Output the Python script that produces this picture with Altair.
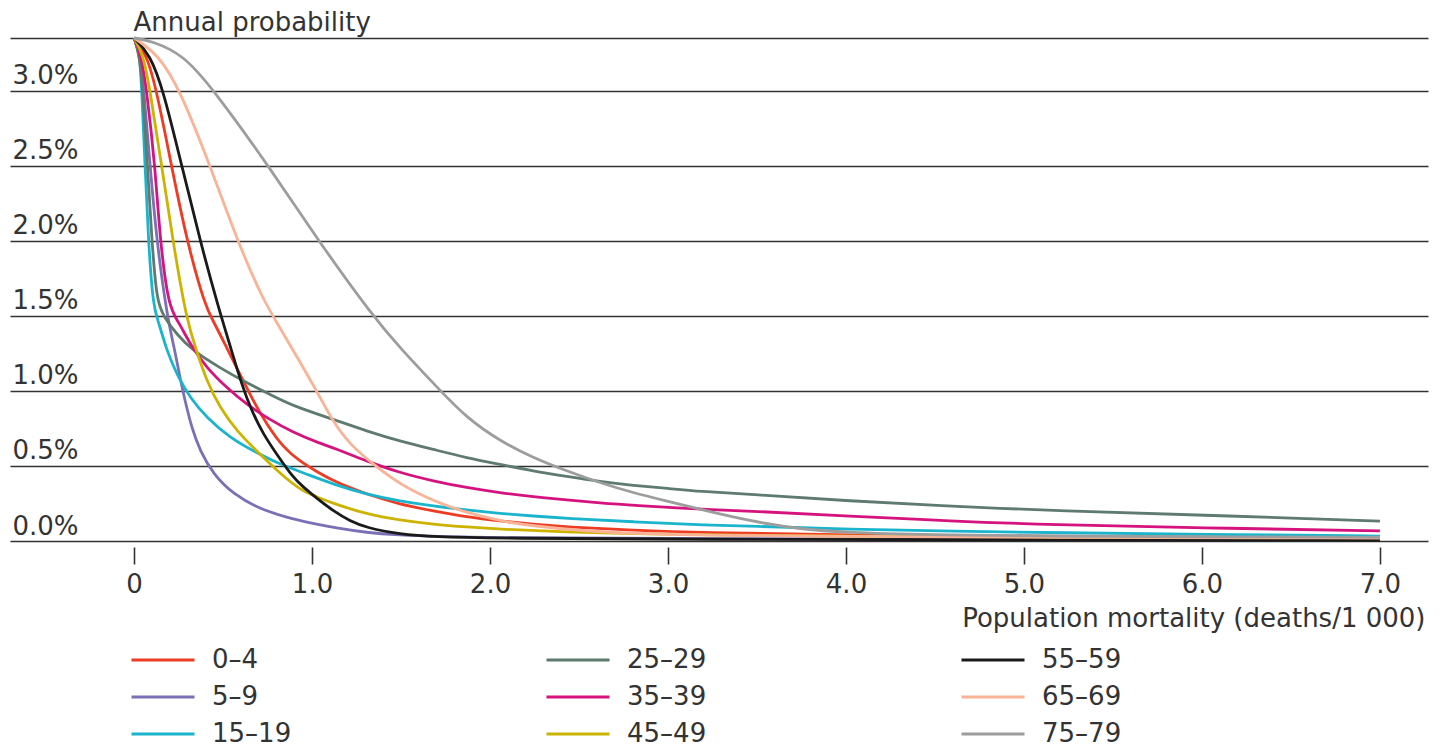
import altair as alt
import pandas as pd

FONT = "DejaVu Sans"
TXT = "#333333"

ages = ["0–4", "5–9", "15–19", "25–29", "35–39", "45–49", "55–59", "65–69", "75–79"]
colors = ["#ee3b24", "#7b6fb5", "#1ab4cc", "#5f7a6f", "#d6127e", "#ccb300", "#1a1a1a", "#f9b396", "#9d9d9d"]

# population mortality (deaths/1000) and annual probability (%)
x_0_4 = [0, 0.071, 0.127, 0.21, 0.296, 0.40, 0.446, 0.521, 0.596, 0.670, 0.746, 0.839, 0.933, 1.03, 1.12, 1.307, 1.494, 1.682, 1.869, 2.056, 2.243, 2.431, 2.805, 3.18, 4.0, 5.0, 6.0, 7.0]
y_0_4 = [3.35, 3.24, 3.0, 2.5, 2.0, 1.56, 1.464, 1.286, 1.109, 0.931, 0.776, 0.621, 0.53, 0.46, 0.399, 0.311, 0.244, 0.2, 0.16, 0.133, 0.111, 0.093, 0.071, 0.055, 0.04, 0.032, 0.027, 0.024]

x_5_9 = [0, 0.035, 0.055, 0.09, 0.127, 0.185, 0.23, 0.258, 0.287, 0.324, 0.371, 0.446, 0.558, 0.708, 0.895, 1.045, 1.12, 1.307, 1.494, 1.682, 2.056, 3.18, 5.0, 7.0]
y_5_9 = [3.35, 3.24, 3.0, 2.5, 2.0, 1.5, 1.264, 1.087, 0.931, 0.754, 0.599, 0.444, 0.311, 0.211, 0.144, 0.108, 0.09, 0.055, 0.04, 0.031, 0.022, 0.015, 0.011, 0.009]

x_15_19 = [0, 0.033, 0.043, 0.062, 0.08, 0.108, 0.137, 0.184, 0.249, 0.315, 0.408, 0.539, 0.670, 0.820, 0.95, 1.12, 1.307, 1.494, 1.682, 1.869, 2.056, 2.243, 2.431, 2.805, 3.18, 3.461, 4.022, 4.6, 5.2, 6.0, 7.0]
y_15_19 = [3.35, 3.24, 3.0, 2.5, 2.0, 1.55, 1.464, 1.264, 1.087, 0.954, 0.821, 0.688, 0.599, 0.51, 0.455, 0.377, 0.311, 0.266, 0.233, 0.206, 0.184, 0.166, 0.151, 0.128, 0.106, 0.1, 0.078, 0.065, 0.055, 0.045, 0.033]

x_25_29 = [0, 0.03, 0.05, 0.075, 0.1, 0.127, 0.165, 0.24, 0.333, 0.483, 0.633, 0.764, 0.895, 1.12, 1.307, 1.494, 1.682, 1.869, 2.056, 2.243, 2.431, 2.618, 2.805, 3.0, 3.18, 3.461, 4.022, 4.584, 4.865, 5.146, 5.989, 7.0]
y_25_29 = [3.35, 3.24, 3.0, 2.5, 2.0, 1.6, 1.497, 1.375, 1.264, 1.153, 1.053, 0.976, 0.898, 0.81, 0.732, 0.665, 0.61, 0.554, 0.51, 0.466, 0.43, 0.395, 0.37, 0.35, 0.33, 0.311, 0.266, 0.233, 0.217, 0.204, 0.173, 0.133]

x_35_39 = [0, 0.04, 0.071, 0.118, 0.146, 0.195, 0.249, 0.315, 0.408, 0.521, 0.633, 0.746, 0.895, 1.045, 1.12, 1.307, 1.494, 1.682, 1.869, 2.056, 2.243, 2.431, 2.618, 2.805, 3.18, 3.461, 4.022, 4.584, 5.146, 5.989, 7.0]
y_35_39 = [3.35, 3.24, 3.0, 2.5, 2.0, 1.55, 1.464, 1.309, 1.153, 1.02, 0.909, 0.82, 0.721, 0.65, 0.621, 0.532, 0.454, 0.399, 0.355, 0.321, 0.295, 0.273, 0.253, 0.237, 0.211, 0.2, 0.166, 0.133, 0.108, 0.088, 0.067]

x_45_49 = [0, 0.052, 0.09, 0.155, 0.218, 0.296, 0.352, 0.408, 0.483, 0.577, 0.708, 0.858, 0.95, 1.045, 1.12, 1.307, 1.494, 1.682, 1.869, 2.056, 2.431, 2.805, 3.18, 4.0, 5.0, 6.0, 7.0]
y_45_49 = [3.35, 3.24, 3.0, 2.5, 2.0, 1.464, 1.264, 1.065, 0.887, 0.732, 0.577, 0.41, 0.33, 0.285, 0.25, 0.178, 0.138, 0.111, 0.093, 0.078, 0.06, 0.049, 0.04, 0.032, 0.026, 0.022, 0.02]

x_55_59 = [0, 0.09, 0.165, 0.268, 0.371, 0.475, 0.549, 0.605, 0.661, 0.727, 0.802, 0.895, 0.95, 1.03, 1.12, 1.213, 1.307, 1.494, 1.682, 2.056, 3.18, 5.0, 7.0]
y_55_59 = [3.35, 3.24, 3.0, 2.5, 2.0, 1.55, 1.264, 1.043, 0.865, 0.71, 0.577, 0.421, 0.36, 0.28, 0.2, 0.133, 0.088, 0.045, 0.027, 0.018, 0.011, 0.008, 0.006]

x_65_69 = [0, 0.137, 0.26, 0.427, 0.58, 0.727, 0.82, 0.933, 1.03, 1.12, 1.213, 1.344, 1.494, 1.682, 1.869, 2.056, 2.243, 2.524, 2.805, 3.18, 4.0, 5.0, 7.0]
y_65_69 = [3.35, 3.24, 3.0, 2.5, 2.0, 1.6, 1.42, 1.19, 0.99, 0.79, 0.643, 0.51, 0.377, 0.266, 0.188, 0.133, 0.1, 0.067, 0.051, 0.038, 0.03, 0.025, 0.02]

x_75_79 = [0, 0.1, 0.277, 0.45, 0.755, 1.035, 1.34, 1.494, 1.719, 1.869, 2.056, 2.243, 2.431, 2.618, 2.805, 2.993, 3.18, 3.461, 3.742, 4.022, 4.584, 5.146, 6.0, 7.0]
y_75_79 = [3.35, 3.33, 3.24, 3.0, 2.5, 2.0, 1.5, 1.286, 1.003, 0.82, 0.665, 0.554, 0.466, 0.388, 0.321, 0.266, 0.211, 0.133, 0.078, 0.055, 0.04, 0.033, 0.028, 0.025]

series = [
    (x_0_4, y_0_4), (x_5_9, y_5_9), (x_15_19, y_15_19), (x_25_29, y_25_29),
    (x_35_39, y_35_39), (x_45_49, y_45_49), (x_55_59, y_55_59),
    (x_65_69, y_65_69), (x_75_79, y_75_79),
]

x_ticks = [0, 1, 2, 3, 4, 5, 6, 7]
y_ticks = [0, 0.5, 1.0, 1.5, 2.0, 2.5, 3.0, 3.35]

rows = []
for age, (xs, ys) in zip(ages, series):
    for xv, yv in zip(xs, ys):
        rows.append({"age": age, "mortality": xv, "prob": yv})
df = pd.DataFrame(rows)

chart = alt.Chart(df).mark_line(interpolate="basis", strokeWidth=2.8).encode(
    x=alt.X(
        "mortality:Q",
        scale=alt.Scale(domain=[-0.697, 7.27], nice=False, zero=False),
        axis=alt.Axis(
            values=x_ticks,
            labelExpr="datum.value == 0 ? '0' : format(datum.value, '.1f')",
            title="Population mortality (deaths/1 000)",
            grid=False, domain=False, ticks=True, tickSize=17, tickWidth=1.6,
            tickColor=TXT, offset=6, labelPadding=28, labelBaseline="alphabetic",
            labelFont=FONT, labelFontSize=26, labelColor=TXT, labelFlush=False,
            titleFont=FONT, titleFontSize=26, titleFontWeight="normal", titleColor=TXT,
            titleX=1415, titleY=79, titleAlign="right", titleBaseline="alphabetic",
        ),
    ),
    y=alt.Y(
        "prob:Q",
        scale=alt.Scale(domain=[0, 3.35], nice=False),
        axis=alt.Axis(
            values=y_ticks,
            labelExpr="datum.value > 3.2 ? '' : format(datum.value, '.1f') + '%'",
            title="Annual probability",
            grid=True, gridColor=TXT, gridWidth=1.6, domain=False, ticks=False, tickSize=0,
            labelAlign="left", labelPadding=-2, labelBaseline="alphabetic", labelOffset=-7,
            labelFont=FONT, labelFontSize=26, labelColor=TXT,
            titleFont=FONT, titleFontSize=26, titleFontWeight="normal", titleColor=TXT,
            titleAngle=0, titleX=123, titleY=-8, titleAlign="left", titleBaseline="alphabetic",
        ),
    ),
    color=alt.Color(
        "age:N",
        scale=alt.Scale(domain=ages, range=colors),
        title=None,
        legend=alt.Legend(
            orient="none", legendX=120, legendY=609, columns=3, columnPadding=253,
            rowPadding=11, clipHeight=26, symbolType="stroke", symbolSize=3969,
            symbolStrokeWidth=3, labelOffset=16, labelFont=FONT, labelFontSize=26,
            labelColor=TXT, padding=0,
        ),
    ),
).properties(
    width=1418,
    height=503,
    autosize=alt.AutoSizeParams(type="none"),
    padding={"left": 2, "top": 30, "right": 5, "bottom": 212},
).configure_view(strokeWidth=0)

chart.save("out.html", embed_options={"renderer": "svg", "actions": False})
